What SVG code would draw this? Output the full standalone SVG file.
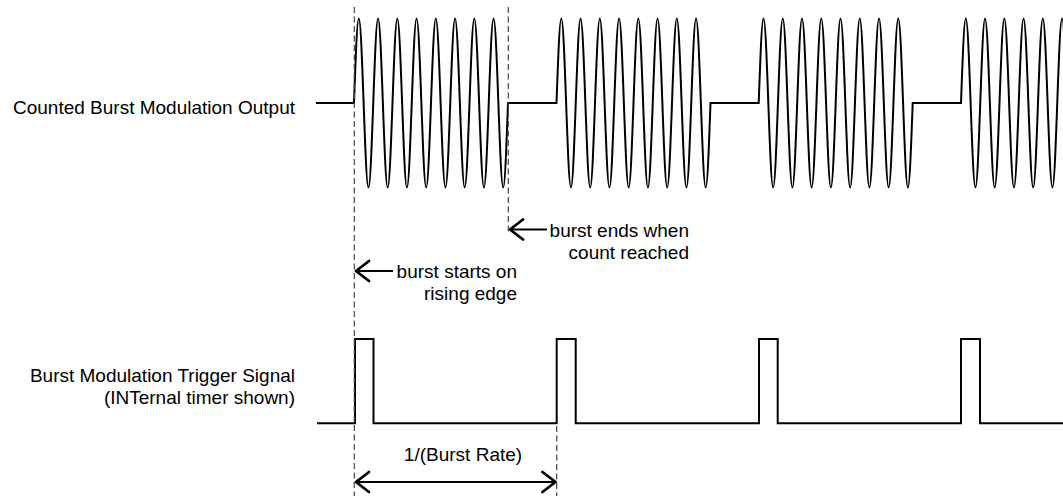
<svg xmlns="http://www.w3.org/2000/svg" width="1063" height="496" viewBox="0 0 1063 496">
<style>
 .lbl{font-family:"Liberation Sans",Arial,sans-serif;font-size:19px;fill:#000}
 .sig{fill:none;stroke:#000;stroke-width:2;stroke-linejoin:miter}
 .guide{fill:none;stroke:#444;stroke-width:1.2;stroke-dasharray:6 3.5}
 .arr{fill:none;stroke:#000;stroke-width:2}
</style>
<defs>
 <marker id="ah" viewBox="-15 -12 17 24" refX="0" refY="0" markerWidth="17" markerHeight="24" orient="auto-start-reverse" markerUnits="userSpaceOnUse">
  <path d="M-13,-10 L0,0 L-13,10" fill="none" stroke="#000" stroke-width="2.8" stroke-linecap="round" stroke-linejoin="round"/>
 </marker>
</defs>
<rect width="1063" height="496" fill="#fff"/>

<g id="output-signal">
 <text class="lbl" x="295" y="114" text-anchor="end">Counted Burst Modulation Output</text>
 <path class="sig" d="M316,103 H354
 c1.5695,-43.29 3.0708,-84.5 4.8125,-84.5 s3.243,41.21 4.8125,84.5 s3.0708,84.5 4.8125,84.5 s3.243,-41.21 4.8125,-84.5
 s3.0708,-84.5 4.8125,-84.5 s3.243,41.21 4.8125,84.5 s3.0708,84.5 4.8125,84.5 s3.243,-41.21 4.8125,-84.5
 s3.0708,-84.5 4.8125,-84.5 s3.243,41.21 4.8125,84.5 s3.0708,84.5 4.8125,84.5 s3.243,-41.21 4.8125,-84.5
 s3.0708,-84.5 4.8125,-84.5 s3.243,41.21 4.8125,84.5 s3.0708,84.5 4.8125,84.5 s3.243,-41.21 4.8125,-84.5
 s3.0708,-84.5 4.8125,-84.5 s3.243,41.21 4.8125,84.5 s3.0708,84.5 4.8125,84.5 s3.243,-41.21 4.8125,-84.5
 s3.0708,-84.5 4.8125,-84.5 s3.243,41.21 4.8125,84.5 s3.0708,84.5 4.8125,84.5 s3.243,-41.21 4.8125,-84.5
 s3.0708,-84.5 4.8125,-84.5 s3.243,41.21 4.8125,84.5 s3.0708,84.5 4.8125,84.5 s3.243,-41.21 4.8125,-84.5
 s3.0708,-84.5 4.8125,-84.5 s3.243,41.21 4.8125,84.5 s3.0708,84.5 4.8125,84.5 s3.243,-41.21 4.8125,-84.5
 H556.5
 c1.5695,-43.29 3.0708,-84.5 4.8125,-84.5 s3.243,41.21 4.8125,84.5 s3.0708,84.5 4.8125,84.5 s3.243,-41.21 4.8125,-84.5
 s3.0708,-84.5 4.8125,-84.5 s3.243,41.21 4.8125,84.5 s3.0708,84.5 4.8125,84.5 s3.243,-41.21 4.8125,-84.5
 s3.0708,-84.5 4.8125,-84.5 s3.243,41.21 4.8125,84.5 s3.0708,84.5 4.8125,84.5 s3.243,-41.21 4.8125,-84.5
 s3.0708,-84.5 4.8125,-84.5 s3.243,41.21 4.8125,84.5 s3.0708,84.5 4.8125,84.5 s3.243,-41.21 4.8125,-84.5
 s3.0708,-84.5 4.8125,-84.5 s3.243,41.21 4.8125,84.5 s3.0708,84.5 4.8125,84.5 s3.243,-41.21 4.8125,-84.5
 s3.0708,-84.5 4.8125,-84.5 s3.243,41.21 4.8125,84.5 s3.0708,84.5 4.8125,84.5 s3.243,-41.21 4.8125,-84.5
 s3.0708,-84.5 4.8125,-84.5 s3.243,41.21 4.8125,84.5 s3.0708,84.5 4.8125,84.5 s3.243,-41.21 4.8125,-84.5
 s3.0708,-84.5 4.8125,-84.5 s3.243,41.21 4.8125,84.5 s3.0708,84.5 4.8125,84.5 s3.243,-41.21 4.8125,-84.5
 H758.7
 c1.5695,-43.29 3.0708,-84.5 4.8125,-84.5 s3.243,41.21 4.8125,84.5 s3.0708,84.5 4.8125,84.5 s3.243,-41.21 4.8125,-84.5
 s3.0708,-84.5 4.8125,-84.5 s3.243,41.21 4.8125,84.5 s3.0708,84.5 4.8125,84.5 s3.243,-41.21 4.8125,-84.5
 s3.0708,-84.5 4.8125,-84.5 s3.243,41.21 4.8125,84.5 s3.0708,84.5 4.8125,84.5 s3.243,-41.21 4.8125,-84.5
 s3.0708,-84.5 4.8125,-84.5 s3.243,41.21 4.8125,84.5 s3.0708,84.5 4.8125,84.5 s3.243,-41.21 4.8125,-84.5
 s3.0708,-84.5 4.8125,-84.5 s3.243,41.21 4.8125,84.5 s3.0708,84.5 4.8125,84.5 s3.243,-41.21 4.8125,-84.5
 s3.0708,-84.5 4.8125,-84.5 s3.243,41.21 4.8125,84.5 s3.0708,84.5 4.8125,84.5 s3.243,-41.21 4.8125,-84.5
 s3.0708,-84.5 4.8125,-84.5 s3.243,41.21 4.8125,84.5 s3.0708,84.5 4.8125,84.5 s3.243,-41.21 4.8125,-84.5
 s3.0708,-84.5 4.8125,-84.5 s3.243,41.21 4.8125,84.5 s3.0708,84.5 4.8125,84.5 s3.243,-41.21 4.8125,-84.5
 H961
 c1.5695,-43.29 3.0708,-84.5 4.8125,-84.5 s3.243,41.21 4.8125,84.5 s3.0708,84.5 4.8125,84.5 s3.243,-41.21 4.8125,-84.5
 s3.0708,-84.5 4.8125,-84.5 s3.243,41.21 4.8125,84.5 s3.0708,84.5 4.8125,84.5 s3.243,-41.21 4.8125,-84.5
 s3.0708,-84.5 4.8125,-84.5 s3.243,41.21 4.8125,84.5 s3.0708,84.5 4.8125,84.5 s3.243,-41.21 4.8125,-84.5
 s3.0708,-84.5 4.8125,-84.5 s3.243,41.21 4.8125,84.5 s3.0708,84.5 4.8125,84.5 s3.243,-41.21 4.8125,-84.5
 s3.0708,-84.5 4.8125,-84.5 s3.243,41.21 4.8125,84.5 s3.0708,84.5 4.8125,84.5 s3.243,-41.21 4.8125,-84.5
 s3.0708,-84.5 4.8125,-84.5 s3.243,41.21 4.8125,84.5 s3.0708,84.5 4.8125,84.5 s3.243,-41.21 4.8125,-84.5"/>
</g>

<g id="trigger-signal">
 <text class="lbl" x="295" y="382" text-anchor="end">Burst Modulation Trigger Signal</text>
 <text class="lbl" x="295" y="404" text-anchor="end">(INTernal timer shown)</text>
 <path class="sig" d="M317,423.3 H355 V339 H373.5 V423.3 H556.7 V339 H575.7 V423.3 H759 V339 H777.7 V423.3 H961 V339 H980 V423.3 H1063"/>
</g>

<g id="connectors">
 <line class="guide" x1="354.3" y1="7" x2="354.3" y2="496"/>
 <line class="guide" x1="508.3" y1="7" x2="508.3" y2="233"/>
 <line class="guide" x1="556.7" y1="426" x2="556.7" y2="496"/>
 <path class="arr" d="M547,229.5 H510" marker-end="url(#ah)"/>
 <path class="arr" d="M393,271 H356" marker-end="url(#ah)"/>
 <path class="arr" d="M356,482 H555.5" marker-start="url(#ah)" marker-end="url(#ah)"/>
</g>

<g id="label-burst-ends">
 <text class="lbl" x="689" y="237" text-anchor="end">burst ends when</text>
 <text class="lbl" x="689" y="259" text-anchor="end">count reached</text>
</g>
<g id="label-burst-starts">
 <text class="lbl" x="517" y="278" text-anchor="end">burst starts on</text>
 <text class="lbl" x="517" y="300" text-anchor="end">rising edge</text>
</g>
<g id="label-period">
 <text class="lbl" x="463" y="461" text-anchor="middle">1/(Burst Rate)</text>
</g>
</svg>
